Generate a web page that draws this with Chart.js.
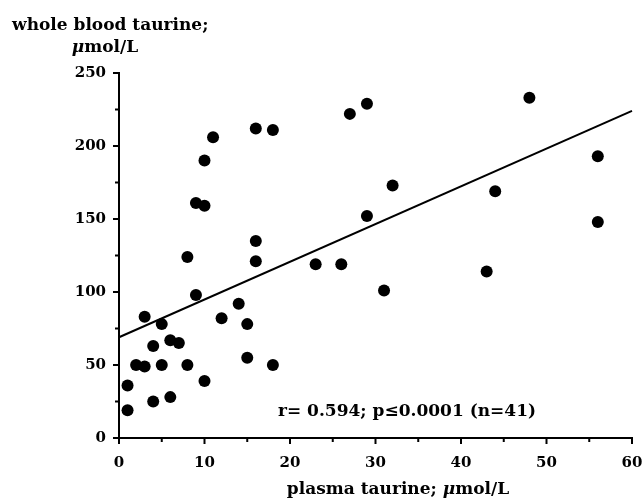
<!DOCTYPE html>
<html>
<head>
<meta charset="utf-8">
<script src="https://cdn.jsdelivr.net/npm/chart.js@4.4.0/dist/chart.umd.min.js"></script>
<style>
  html, body { margin: 0; padding: 0; background: #fff; }
  #wrap { width: 642px; height: 501px; position: relative; }
</style>
</head>
<body>
<div id="wrap"><canvas id="c" width="642" height="501"></canvas></div>
<script>
// Data
const plasmaTaurine = [1, 1, 2, 3, 3, 4, 4, 5, 5, 6, 6, 7, 8, 8, 9, 9, 10, 10, 10, 11, 12, 14, 15, 15, 16, 16, 16, 18, 18, 23, 26, 27, 29, 29, 31, 32, 43, 44, 48, 56, 56];
const wholeBloodTaurine = [19, 36, 50, 49, 83, 63, 25, 78, 50, 67, 28, 65, 50, 124, 98, 161, 159, 39, 190, 206, 82, 92, 78, 55, 135, 121, 212, 50, 211, 119, 119, 222, 229, 152, 101, 173, 114, 169, 233, 193, 148];
const fitLineX = [0, 60];
const fitLineY = [69, 224];
const xTickLabels = [0, 10, 20, 30, 40, 50, 60];
const yTickLabels = [0, 50, 100, 150, 200, 250];
const yTitleLine1 = 'whole blood taurine;';
const yTitleLine2 = [['μ', true], ['mol/L', false]];
const xTitle = [['plasma taurine; ', false], ['μ', true], ['mol/L', false]];
const statsText = 'r= 0.594; p≤0.0001 (n=41)';

const FONT = '"DejaVu Serif", serif';

const points = plasmaTaurine.map((x, i) => ({ x: x, y: wholeBloodTaurine[i] }));
const fitLine = fitLineX.map((x, i) => ({ x: x, y: fitLineY[i] }));

function drawSegments(ctx, segs, x, y, align) {
  const fontFor = it => (it ? 'italic ' : '') + 'bold 17px ' + FONT;
  let total = 0;
  segs.forEach(s => { ctx.font = fontFor(s[1]); total += ctx.measureText(s[0]).width; });
  let cx = align === 'center' ? x - total / 2 : x;
  ctx.textAlign = 'left';
  segs.forEach(s => {
    ctx.font = fontFor(s[1]);
    ctx.fillText(s[0], cx, y);
    cx += ctx.measureText(s[0]).width;
  });
}

const customTicks = {
  id: 'customTicks',
  afterDraw(chart) {
    const ctx = chart.ctx;
    const xs = chart.scales.x, ys = chart.scales.y;
    ctx.save();
    ctx.strokeStyle = '#000';
    ctx.lineWidth = 2;
    xs.ticks.forEach(t => {
      const px = xs.getPixelForValue(t.value);
      const major = xTickLabels.includes(t.value);
      ctx.beginPath();
      ctx.moveTo(px, xs.top);
      ctx.lineTo(px, xs.top + (major ? 6 : 4));
      ctx.stroke();
    });
    ys.ticks.forEach(t => {
      const py = ys.getPixelForValue(t.value);
      const major = yTickLabels.includes(t.value);
      ctx.beginPath();
      ctx.moveTo(ys.right, py);
      ctx.lineTo(ys.right - (major ? 6 : 4), py);
      ctx.stroke();
    });
    ctx.fillStyle = '#000';
    ctx.textBaseline = 'alphabetic';
    ctx.font = 'bold 17px ' + FONT;
    ctx.textAlign = 'left';
    ctx.fillText(yTitleLine1, 12, 30);
    drawSegments(ctx, yTitleLine2, 105, 52, 'center');
    drawSegments(ctx, xTitle, 398, 494, 'center');
    ctx.font = 'bold 17px ' + FONT;
    ctx.textAlign = 'left';
    ctx.fillText(statsText, 278, 416);
    ctx.restore();
  }
};

new Chart(document.getElementById('c'), {
  type: 'scatter',
  data: {
    datasets: [
      {
        type: 'line',
        data: fitLine,
        borderColor: '#000',
        borderWidth: 2,
        pointRadius: 0,
        fill: false,
        clip: false
      },
      {
        data: points,
        backgroundColor: '#000',
        borderColor: '#000',
        borderWidth: 0,
        pointRadius: 6,
        clip: false
      }
    ]
  },
  options: {
    responsive: false,
    animation: false,
    devicePixelRatio: 1,
    layout: { padding: { left: 0, top: 73, right: 10, bottom: 0 } },
    plugins: { legend: { display: false }, tooltip: { enabled: false }, title: { display: false } },
    scales: {
      x: {
        type: 'linear',
        min: 0, max: 60,
        border: { display: true, color: '#000', width: 2 },
        grid: { display: true, drawOnChartArea: false, drawTicks: false },
        ticks: {
          stepSize: 5,
          autoSkip: false,
          maxRotation: 0,
          padding: 16,
          color: '#000',
          font: { family: FONT, size: 15, weight: 'bold' },
          callback: v => xTickLabels.includes(v) ? String(v) : ''
        },
        afterFit: s => { s.height = 63; s.paddingLeft = 0; s.paddingRight = 0; }
      },
      y: {
        type: 'linear',
        min: 0, max: 250,
        border: { display: true, color: '#000', width: 2 },
        grid: { display: true, drawOnChartArea: false, drawTicks: false },
        ticks: {
          stepSize: 25,
          autoSkip: false,
          padding: 13,
          color: '#000',
          font: { family: FONT, size: 15, weight: 'bold' },
          callback: v => yTickLabels.includes(v) ? String(v) : ''
        },
        afterFit: s => { s.width = 119; s.paddingTop = 0; s.paddingBottom = 0; }
      }
    }
  },
  plugins: [customTicks]
});
</script>
</body>
</html>
